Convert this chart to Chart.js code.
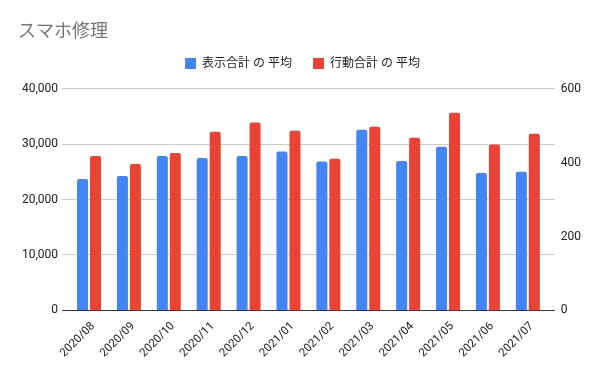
<!DOCTYPE html>
<html>
<head>
<meta charset="utf-8">
<script src="https://cdn.jsdelivr.net/npm/chart.js@4.4.0/dist/chart.umd.min.js"></script>
<style>
  html, body { margin: 0; padding: 0; background: #fff; }
  #wrap { width: 600px; height: 371px; }
</style>
</head>
<body>
<div id="wrap"><canvas id="c" width="600" height="371"></canvas></div>
<script>
// chart data
const months = ['2020/08', '2020/09', '2020/10', '2020/11', '2020/12', '2021/01',
                '2021/02', '2021/03', '2021/04', '2021/05', '2021/06', '2021/07'];
const viewsAvg = [23700, 24250, 27870, 27500, 27870, 28650, 26850, 32600, 26950, 29500, 24800, 25000];
const actionsAvg = [418, 396, 426, 483, 508, 486, 410, 497, 467, 535, 449, 478];
const leftTicks = [0, 10000, 20000, 30000, 40000];
const rightTicks = [0, 200, 400, 600];

const FONT = "Roboto, 'Noto Sans CJK JP', sans-serif";

// extra gap under the legend
const legendGap = {
  id: 'legendGap',
  beforeInit(chart) {
    const fit = chart.legend.fit;
    chart.legend.fit = function () {
      fit.call(this);
      this.height += 9;
    };
  }
};

// categories sit a little inside the plot area, like the sheets chart
const xInset = {
  id: 'xInset',
  afterLayout(chart) {
    const x = chart.scales.x;
    x.left += 7;
    x.right -= 7;
    x.configure();
  }
};

new Chart(document.getElementById('c'), {
  type: 'bar',
  data: {
    labels: months,
    datasets: [
      {
        label: '表示合計 の 平均',
        data: viewsAvg,
        backgroundColor: '#4285f4',
        yAxisID: 'y',
        borderRadius: { topLeft: 2, topRight: 2 },
        borderSkipped: 'bottom'
      },
      {
        label: '行動合計 の 平均',
        data: actionsAvg,
        backgroundColor: '#ea4335',
        yAxisID: 'y2',
        borderRadius: { topLeft: 2, topRight: 2 },
        borderSkipped: 'bottom'
      }
    ]
  },
  options: {
    responsive: false,
    animation: false,
    categoryPercentage: 0.65,
    barPercentage: 0.85,
    layout: { padding: { left: 18, right: 13, top: 0, bottom: 2 } },
    plugins: {
      title: {
        display: true,
        text: 'スマホ修理',
        align: 'start',
        color: '#757575',
        font: { family: FONT, size: 18, weight: 'normal' },
        padding: { top: 22, bottom: -7 }
      },
      legend: {
        position: 'top',
        labels: {
          boxWidth: 11,
          boxHeight: 11,
          padding: 21,
          color: '#222',
          font: { family: FONT, size: 12 }
        }
      },
      tooltip: { enabled: false }
    },
    scales: {
      x: {
        grid: { display: false, drawTicks: false },
        border: { display: false },
        ticks: {
          color: '#222',
          font: { family: FONT, size: 11.5 },
          maxRotation: 45,
          minRotation: 45,
          padding: 9,
          labelOffset: 4
        }
      },
      y: {
        position: 'left',
        min: 0,
        max: 40000,
        afterBuildTicks: axis => { axis.ticks = leftTicks.map(v => ({ value: v })); },
        grid: {
          color: ctx => (ctx.tick && ctx.tick.value === 0 ? '#333333' : '#cccccc'),
          drawTicks: false
        },
        border: { display: false },
        ticks: {
          color: '#222',
          padding: 4,
          font: { family: FONT, size: 12 },
          callback: v => v.toLocaleString('en-US')
        }
      },
      y2: {
        position: 'right',
        min: 0,
        max: 600,
        afterBuildTicks: axis => { axis.ticks = rightTicks.map(v => ({ value: v })); },
        grid: { display: false, drawTicks: false },
        border: { display: false },
        ticks: {
          color: '#222',
          padding: 6,
          font: { family: FONT, size: 12 }
        }
      }
    }
  },
  plugins: [legendGap, xInset]
});
</script>
</body>
</html>
